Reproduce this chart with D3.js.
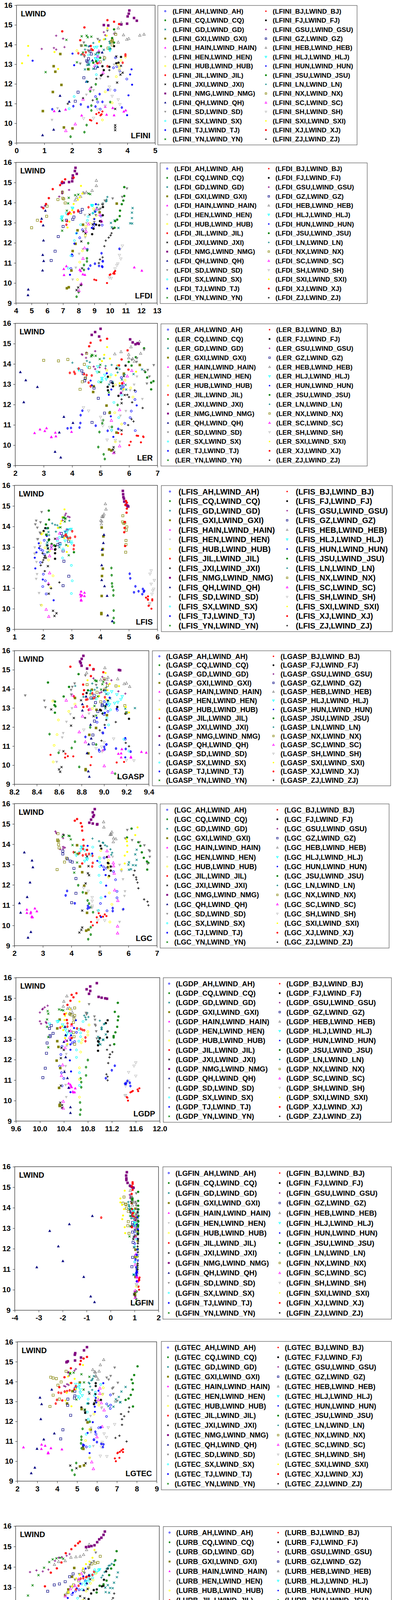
<!DOCTYPE html>
<html>
<head>
<meta charset="utf-8">
<script src="https://cdn.jsdelivr.net/npm/d3@7"></script>
<style>
  body { margin: 0; background: #fff; }
  text { font-family: "Liberation Sans", Arial, sans-serif; font-weight: bold; fill: #000; }
</style>
</head>
<body>
<svg id="chart" width="1006" height="4802"></svg>
<script>
// provinces in legend order (left column, then right column)
var provinces = ["AH","CQ","GD","GXI","HAIN","HEN","HUB","JIL","JXI","NMG","QH","SD","SX","TJ","YN",
                 "BJ","FJ","GSU","GZ","HEB","HLJ","HUN","JSU","LN","NX","SC","SH","SXI","XJ","ZJ"];
var markerTypes = ["ocirc","stem","x","fsq","ftri","fdtri","ocirc","stem","x","fsq","ftri","fdtri","ocirc","stem","x",
                   "fcirc","star","plus","osq","otri","odtri","fcirc","star","plus","osq","otri","odtri","fcirc","star","plus"];
var markerColors = ["#0000FF","#008000","#008080","#808000","#FF00FF","#C0C0C0","#FFFF00","#FF0000","#000000","#800080","#000080","#808080","#00FFFF","#0000FF","#008000",
                    "#FF0000","#000000","#800080","#000080","#808080","#00FFFF","#0000FF","#008000","#008080","#808000","#FF00FF","#C0C0C0","#FFFF00","#FF0000","#000000"];

// LWIND values (y), one row per province, same order as above
var lwind = [
  [13.33,12.88,12.82,12.65,12.25,11.68,11.36,11.08,10.72], // AH
  [11.98,11.63,11.23,11.08,10.90,10.65,9.91,9.55,9.32],    // CQ
  [13.73,13.50,13.23,13.11,12.99,12.97,12.96,12.77,12.74], // GD
  [13.95,13.52,12.90,12.62,11.95,11.59,10.62,9.79,9.74],   // GXI
  [10.84,10.78,10.70,10.66,10.62,10.60,10.44,10.41,10.40], // HAIN
  [13.38,12.98,12.70,12.67,12.27,11.68,11.45,10.76,10.17], // HEN
  [13.69,13.36,13.20,12.97,12.82,12.37,11.60,11.04,10.17], // HUB
  [13.77,13.61,13.56,13.52,13.50,13.45,13.43,13.08,12.90], // JIL
  [13.40,12.92,12.57,12.47,12.07,10.73,9.90,9.78,9.65],    // JXI
  [15.73,15.57,15.43,15.35,15.21,15.06,15.02,14.99,14.97], // NMG
  [13.60,13.20,12.87,12.12,11.40,11.10,10.63,9.68,9.40],   // QH
  [14.70,14.28,14.20,14.10,13.94,13.70,13.65,13.38,13.03], // SD
  [13.86,13.47,13.30,13.12,12.90,12.47,12.11,11.36,10.74], // SX
  [11.70,11.48,11.09,10.96,10.87,10.85,10.83,10.80,10.71], // TJ
  [14.45,14.42,14.40,14.37,14.24,13.96,13.60,13.10,12.60], // YN
  [10.60,10.54,10.47,10.46,10.43,10.40,10.17,10.14,10.00], // BJ
  [13.92,13.78,13.37,13.08,13.05,12.90,12.87,12.70,12.43], // FJ
  [14.63,14.55,14.48,14.45,14.30,13.87,13.83,13.78,13.75], // GSU
  [13.66,13.52,13.28,13.17,13.12,12.81,12.31,11.58,11.12], // GZ
  [15.10,14.84,14.60,14.52,14.49,14.47,14.30,14.26,14.12], // HEB
  [13.87,13.85,13.74,13.70,13.60,13.45,13.30,13.25,13.17], // HLJ
  [13.92,13.54,13.18,12.95,12.74,12.48,11.96,11.42,10.41], // HUN
  [14.77,14.33,14.10,13.92,13.60,13.33,13.15,13.08,12.75], // JSU
  [14.28,14.15,14.08,14.06,13.95,13.90,13.75,13.58,13.48], // LN
  [14.52,14.22,14.18,14.15,13.98,13.82,13.32,13.12,12.75], // NX
  [13.67,13.40,13.08,12.93,12.57,11.74,11.22,9.96,9.62],   // SC
  [11.85,11.69,11.38,11.20,10.96,10.88,10.71,10.26,10.24], // SH
  [14.83,14.45,14.26,14.14,13.93,13.62,13.44,13.05,12.76], // SXI
  [15.24,15.16,15.04,14.87,14.67,14.22,13.93,13.72,13.05], // XJ
  [12.70,12.48,12.37,12.26,12.11,11.83,11.28,11.17,10.99]  // ZJ
];

// x values per panel, rows in province order
var xLFINI = [
  [3.57,3.62,3.5,3.72,3.98,3.55,2.85,2.93,3.02],[2.86,2.66,2.9,3.38,2.7,2.7,2.53,2.45,1.95],
  [3.15,2.85,3.15,2.9,2.6,2.62,2.55,2.77,2.47],[2.34,1.58,1.34,1.4,1.62,1.31,0.95,1.71,2.02],
  [3.2,3.47,1.77,3.94,1.36,3.87,3.25,3.52,2.35],[3.15,3.52,3.72,3.7,3.02,2.78,2.52,1.48,1.28],
  [2.18,3.93,3.77,3.67,3.71,3.6,3.2,3.45,3.1],[2.7,2.5,2.23,2.38,3.93,2.45,3.93,3.83,3.28],
  [3.6,3.77,3.83,3.75,3.63,3.56,3.56,3.56,3.56],[4.07,4.05,4.01,4.24,4.34,3.99,3.78,3.15,3.31],
  [3.09,2.74,2.93,2.52,1.57,1.9,1.55,1.34,0.94],[3.28,2.93,3.0,2.43,2.33,2.58,2.62,2.45,2.3],
  [3.35,2.6,2.85,2.65,2.88,2.88,2.55,2.08,1.9],[3.3,3.0,3.1,2.32,2.05,2.85,2.58,3.8,1.29],
  [2.53,2.35,2.7,2.57,1.8,2.47,2.4,2.18,1.05],
  [3.1,2.97,2.88,3.07,3.05,3.03,2.65,2.7,2.9],[3.52,3.38,3.77,3.68,3.6,3.1,3.35,3.15,3.05],
  [3.15,3.52,3.2,1.43,1.68,1.73,1.35,0.91,1.43],[2.65,2.7,2.6,2.53,2.57,2.85,2.43,2.22,2.12],
  [3.78,3.67,3.55,4.6,3.86,4.45,4.05,3.98,3.67],[2.9,2.82,3.35,3.37,2.97,2.93,2.85,2.95,2.9],
  [2.65,2.02,0.58,2.08,4.15,4.1,4.17,4.04,3.99],[3.52,3.45,3.52,3.05,2.97,3.02,2.87,2.77,2.58],
  [3.2,3.35,2.77,3.37,2.52,2.6,2.47,2.9,2.33],[3.58,3.46,3.45,3.42,3.45,3.3,3.18,3.02,2.6],
  [2.97,2.93,2.98,2.83,3.12,2.65,2.4,2.12,1.78],[3.35,3.37,3.45,3.67,3.73,3.2,2.92,2.78,2.42],
  [3.28,3.25,3.15,2.98,0.42,1.37,0.42,0.2,1.5],[3.28,3.52,3.7,2.45,1.65,2.3,2.68,2.75,2.92],
  [3.35,3.1,3.3,2.88,2.57,2.7,2.4,2.75,1.85]
];
var xLFDI = [
  [9.42,9.5,8.95,8.24,8.07,8.55,7.6,9.54,7.51],[8.61,8.55,8.53,8.53,8.34,8.34,8.17,8.0,7.87],
  [11.44,11.4,11.4,10.29,10.06,11.29,11.41,10.12,10.54],[10.43,9.34,8.28,7.93,7.8,7.62,7.54,7.37,7.25],
  [7.22,11.55,7.05,8.07,12.03,8.13,8.27,8.4,7.07],[8.4,8.5,8.45,8.45,8.42,8.27,8.03,7.82,7.62],
  [8.96,9.13,8.98,8.72,8.47,8.43,8.24,8.07,7.93],[8.63,7.97,7.97,7.7,7.43,7.35,7.32,7.26,7.22],
  [8.7,8.9,8.3,8.44,8.17,8.22,8.13,7.97,7.87],[7.8,7.76,7.88,7.63,7.61,7.59,7.39,7.05,6.93],
  [5.88,5.64,5.74,5.76,5.71,5.77,5.7,4.79,4.77],[11.08,10.78,10.17,9.67,9.54,9.4,9.3,9.09,9.0],
  [8.83,8.9,8.6,8.56,8.13,7.85,7.73,7.51,7.34],[10.6,9.46,9.54,9.04,8.75,9.3,9.49,9.52,8.63],
  [8.63,8.74,7.98,7.78,7.37,7.33,7.25,6.97,6.95],
  [10.33,10.27,10.21,10.29,10.03,9.98,9.0,9.12,9.81],[9.53,9.55,9.54,9.36,9.44,9.11,9.31,8.95,8.86],
  [7.39,6.95,6.96,6.95,6.76,5.88,5.85,5.63,5.72],[8.23,8.13,7.7,7.63,7.22,7.01,6.7,6.5,6.25],
  [9.13,9.13,8.86,8.49,8.28,8.34,8.13,7.88,7.78],[8.84,8.9,7.59,7.62,9.13,7.22,6.95,6.93,6.9],
  [9.1,9.05,9.0,9.0,8.84,7.88,7.73,7.57,7.45],[10.91,10.91,10.85,10.75,10.64,10.62,10.46,10.33,10.29],
  [9.83,9.78,9.79,9.74,9.54,9.25,9.17,9.02,8.92],[6.97,6.99,7.05,6.68,7.14,5.99,5.96,5.37,5.0],
  [9.13,9.36,9.46,8.63,8.48,8.38,8.28,8.17,8.02],[10.79,10.66,10.6,10.69,10.5,10.44,10.32,9.96,10.08],
  [8.15,8.24,8.07,7.95,7.68,7.59,7.51,7.41,7.29],[7.68,7.14,6.95,6.82,6.35,6.1,5.92,5.75,5.6],
  [10.19,10.1,10.04,9.92,9.73,9.64,9.53,9.36,9.29]
];
var xLER = [
  [5.73,5.8,5.75,6.23,6.21,6.08,6.04,5.85,6.22],[5.6,5.33,5.09,5.06,5.4,4.96,4.92,5.11,5.15],
  [6.46,6.16,5.75,5.43,5.3,5.88,5.77,5.71,5.9],[6.38,5.82,4.76,4.74,5.21,5.32,5.56,5.3,5.38],
  [3.1,2.87,3.04,3.98,3.41,2.68,3.43,3.27,3.27],[6.28,6.18,6.04,5.78,6.47,5.89,5.7,5.68,5.68],
  [5.22,5.33,5.86,5.53,6.06,6.14,5.5,5.74,5.52],[4.23,4.07,3.92,4.1,4.42,4.51,4.69,4.58,4.65],
  [5.82,5.68,5.72,5.85,5.74,5.74,5.46,5.44,5.48],[5.0,4.81,4.69,4.95,6.04,6.13,6.3,6.34,6.23],
  [2.18,2.37,2.78,2.3,3.71,4.03,3.55,3.4,3.6],[6.53,6.28,6.1,6.27,6.87,6.66,6.54,6.72,6.63],
  [5.62,5.37,5.05,4.93,5.74,5.74,5.47,5.64,5.39],[4.36,4.3,4.29,4.83,4.26,3.96,3.84,5.62,5.25],
  [4.69,4.72,4.83,4.67,4.97,4.99,4.95,5.01,5.29],
  [5.62,5.74,6.27,6.32,6.5,6.51,6.06,6.42,6.01],[5.88,5.56,5.26,5.41,5.43,5.44,5.25,5.26,5.63],
  [4.81,4.5,4.34,4.36,4.49,4.76,4.97,5.17,4.81],[4.34,4.39,4.46,4.44,5.37,4.77,4.92,5.14,4.7],
  [6.37,6.07,5.72,6.41,5.5,5.99,5.99,6.13,6.19],[4.9,4.55,4.22,4.24,4.88,5.15,5.05,5.2,5.05],
  [5.59,5.22,4.65,4.69,5.38,5.29,6.27,5.36,5.45],[6.53,6.24,5.99,6.09,6.57,6.64,6.86,6.78,6.78],
  [5.12,4.52,4.62,4.01,5.39,5.18,5.67,5.6,5.85],[4.51,3.85,3.0,3.52,4.43,4.61,4.47,4.36,4.28],
  [6.1,5.94,5.8,5.75,5.72,5.67,5.38,5.67,5.46],[4.4,4.58,5.0,5.05,5.08,5.32,5.39,5.23,5.52],
  [5.23,5.13,5.33,5.05,5.6,6.25,5.53,5.67,5.81],[5.23,5.0,4.65,4.6,5.95,5.74,5.65,5.98,5.76],
  [6.2,5.94,6.0,5.74,6.11,6.48,6.09,6.16,5.97]
];
var xLFIS = [
  [2.04,1.92,1.99,2.04,1.91,2.01,2.08,1.99,2.11],[4.39,4.4,4.41,4.42,4.46,4.46,4.47,4.47,4.48],
  [2.19,2.68,2.15,2.13,2.57,2.29,2.17,2.19,2.14],[4.05,4.11,4.09,4.08,4.09,4.06,4.05,4.04,4.04],
  [3.33,3.45,3.3,3.36,3.45,3.32,3.33,3.34,3.33],[1.79,1.71,1.73,1.7,1.77,1.79,1.76,1.86,1.92],
  [1.99,2.92,1.91,2.07,2.23,2.19,2.35,2.26,1.95],[3.02,2.8,2.77,2.83,3.12,2.95,2.87,3.08,3.07],
  [2.42,2.17,2.07,2.1,2.17,2.2,2.35,2.47,2.4],[4.79,4.8,4.81,4.83,4.84,4.9,4.94,4.96,4.98],
  [4.13,4.11,4.06,4.05,4.05,4.15,4.24,4.26,4.42],[1.95,1.76,1.91,1.73,1.8,1.89,1.91,1.82,1.89],
  [2.96,2.57,2.5,2.61,2.7,2.68,2.99,3.02,2.99],[5.03,5.05,5.23,5.49,5.54,5.34,5.52,5.18,5.47],
  [2.74,2.7,2.79,2.77,2.76,2.61,2.13,2.81,2.9],
  [5.67,5.6,5.66,5.82,5.67,5.82,5.71,5.69,5.79],[2.08,2.02,2.21,2.15,2.43,2.43,2.42,2.42,2.42],
  [2.8,2.77,2.87,2.93,2.68,2.83,2.87,2.8,2.77],[2.64,2.68,2.89,2.59,2.52,2.7,2.73,2.9,2.7],
  [4.18,4.2,4.13,4.11,4.06,4.09,4.02,4.05,4.04],[2.98,2.87,2.77,2.83,2.8,2.9,2.77,2.98,3.0],
  [2.17,2.13,1.85,1.86,1.77,1.71,1.73,1.99,2.37],[2.2,2.21,2.1,2.17,2.11,2.2,2.3,2.39,3.08],
  [2.92,2.32,2.42,2.5,2.55,2.13,2.45,2.21,2.83],[4.79,4.78,4.86,4.82,4.93,4.91,4.9,4.9,4.89],
  [2.58,2.5,2.3,2.29,2.23,2.23,2.19,2.11,2.2],[5.78,5.74,5.89,5.78,5.87,5.84,5.81,5.74,5.72],
  [2.75,2.68,2.64,2.61,2.52,1.95,2.74,2.87,2.83],[4.9,4.93,4.88,4.93,4.92,4.86,4.85,4.84,4.87],
  [1.98,2.04,2.01,1.98,1.92,2.06,2.57,2.19,2.28]
];
var xLGASP = [
  [9.002,9.119,9.035,9.0,8.938,8.99,9.19,9.02,8.96],[8.877,8.514,8.741,8.93,8.712,8.595,8.779,9.099,9.128],
  [9.02,9.055,9.022,9.002,9.276,9.012,9.19,9.2,8.99],[8.892,8.741,8.933,9.026,8.929,8.869,8.86,8.836,8.836],
  [9.159,8.99,9.334,9.377,9.153,9.128,9.24,9.153,9.24],[8.55,8.714,8.866,8.7,8.665,8.636,8.627,8.603,8.578],
  [8.88,8.543,8.741,8.895,8.686,8.593,8.581,8.555,8.547],[8.895,8.731,9.008,8.919,8.903,8.853,8.84,8.849,8.863],
  [8.795,8.529,8.907,8.731,8.706,8.638,8.621,8.599,8.609],[8.816,8.801,8.786,8.793,8.8,8.849,8.906,9.133,9.144],
  [8.84,8.807,8.807,8.88,8.886,8.863,8.849,8.86,8.869],[8.834,8.738,8.93,8.717,8.706,8.708,8.297,8.467,8.477],
  [9.009,8.93,9.037,9.04,9.058,9.026,9.041,9.177,9.223],[8.99,8.834,9.022,9.002,9.107,9.194,9.006,8.955,9.238],
  [8.919,8.929,8.935,8.994,8.985,8.974,8.944,8.915,8.93],
  [8.656,8.523,8.677,8.726,8.888,8.653,9.179,9.113,8.88],[9.0,8.845,9.035,9.012,9.119,8.965,8.973,9.192,9.223],
  [8.985,8.906,9.002,9.066,9.022,9.128,8.977,8.962,9.19],[8.912,8.884,8.924,8.985,8.983,8.945,8.915,8.901,8.904],
  [9.008,8.845,9.035,9.122,9.026,8.971,9.2,9.18,9.229],[8.88,9.069,9.037,9.115,9.162,9.151,9.124,9.095,9.049],
  [9.016,9.05,9.023,9.113,9.008,8.935,9.009,9.19,9.19],[8.773,8.5,8.688,8.857,8.64,8.563,8.558,8.567,8.562],
  [8.895,8.743,9.02,8.938,8.917,8.88,8.877,8.816,8.893],[9.002,8.849,9.031,9.107,9.008,8.938,8.971,9.186,9.2],
  [8.717,8.663,8.747,8.874,8.808,8.779,8.834,9.002,9.074],[8.82,8.983,9.086,9.002,8.979,8.929,8.983,9.2,9.267],
  [9.014,8.853,9.051,9.134,9.031,8.956,9.02,9.194,9.223],[8.874,8.7,8.906,8.994,8.883,8.814,8.822,8.813,8.816],
  [8.985,8.831,9.02,9.105,9.006,8.962,8.977,9.194,9.223]
];
var xLGC = [
  [5.15,5.13,5.22,5.48,5.55,5.6,5.6,5.02,5.25],[4.24,4.4,4.57,4.62,4.69,4.76,4.68,4.68,4.59],
  [6.29,6.24,6.29,6.02,6.0,6.16,6.26,6.09,6.02],[4.2,4.22,4.3,4.38,4.45,4.52,4.55,4.6,4.52],
  [2.72,2.44,2.79,2.58,2.44,2.57,2.61,2.64,2.62],[5.45,5.69,5.74,5.76,5.81,5.88,5.86,5.8,5.69],
  [5.03,4.98,5.3,5.3,5.3,5.3,5.33,5.42,5.35],[4.41,4.08,4.28,4.62,4.51,4.4,4.74,4.75,4.73],
  [4.55,4.6,4.58,4.62,4.5,4.38,4.38,4.35,4.28],[4.82,4.75,4.79,4.76,4.69,4.63,4.75,4.91,4.9],
  [2.35,2.62,2.65,2.55,2.45,2.18,2.22,2.58,2.48],[5.96,5.89,6.13,6.39,6.56,6.72,6.75,6.75,6.67],
  [4.75,4.68,5.0,4.99,5.0,4.97,5.03,5.04,4.95],[3.85,3.8,4.12,4.58,4.63,5.45,4.57,5.82,5.45],
  [3.73,3.9,3.94,3.69,3.98,4.04,4.12,4.2,4.1],
  [4.96,5.17,5.01,5.23,5.11,4.89,4.69,4.9,4.75],[5.02,5.05,5.25,5.28,5.3,5.38,5.28,5.38,5.32],
  [3.44,3.47,3.71,3.73,3.71,3.71,3.77,3.71,3.61],[3.7,3.7,3.86,3.96,4.03,4.09,4.16,4.16,4.01],
  [5.13,5.14,5.42,5.38,5.4,5.36,5.48,5.56,5.47],[4.35,4.38,4.34,4.47,4.29,4.17,4.53,4.56,4.47],
  [4.57,4.73,4.91,5.05,5.14,5.2,5.22,5.19,5.04],[6.11,5.95,6.35,6.42,6.47,6.54,6.65,6.7,6.66],
  [4.74,4.97,5.1,5.12,5.18,5.25,5.37,5.43,5.4],[3.53,3.52,3.52,3.55,3.55,3.57,3.83,3.76,3.5],
  [5.25,5.31,5.47,5.48,5.5,5.52,5.63,5.62,5.62],[4.43,4.59,4.73,4.73,4.73,4.73,4.93,4.93,5.17],
  [6.32,6.24,5.93,5.95,5.96,5.96,5.87,5.87,5.76],[4.2,4.12,4.33,4.37,4.38,4.42,4.43,4.55,4.38],
  [6.22,6.18,6.27,6.28,6.32,6.35,6.55,6.67,6.7]
];
var xLGDP = [
  [10.61,10.58,10.54,10.37,10.35,10.33,10.36,10.4,10.37],[10.8,10.77,10.77,10.68,10.69,10.69,10.67,10.68,10.67],
  [11.07,11.03,11.1,10.97,10.99,11.05,11.06,10.99,11.01],[10.33,10.29,10.29,10.31,10.28,10.34,10.32,10.33,10.33],
  [10.48,10.51,10.52,10.53,10.49,10.59,10.55,10.58,10.56],[10.53,10.5,10.45,10.45,10.44,10.43,10.41,10.43,10.44],
  [10.82,10.8,10.8,10.71,10.69,10.68,10.66,10.66,10.66],[10.46,10.46,10.34,10.62,10.68,10.71,10.74,10.76,10.76],
  [10.49,10.45,10.36,10.4,10.35,10.35,10.34,10.37,10.37],[10.95,10.84,10.78,10.84,10.82,10.98,11.03,11.09,11.12],
  [10.42,10.43,10.4,10.43,10.41,10.46,10.48,10.51,10.51],[10.82,10.77,10.78,10.91,10.92,10.92,10.93,10.94,10.95],
  [10.72,10.65,10.68,10.68,10.65,10.61,10.61,10.66,10.66],[11.25,11.2,11.1,11.46,11.5,11.44,11.42,11.43,11.51],
  [10.32,10.36,10.39,10.13,10.14,10.12,10.12,10.14,10.14],
  [11.66,11.63,11.55,11.64,11.53,11.51,11.45,11.46,11.47],[11.13,11.1,11.13,11.12,11.0,10.97,10.98,10.97,10.97],
  [10.13,10.08,10.05,10.04,10.0,10.0,10.1,10.11,10.02],[10.19,10.16,10.22,10.17,10.17,10.12,10.11,10.09,10.05],
  [10.45,10.4,10.39,10.49,10.46,10.52,10.54,10.5,10.56],[10.31,10.29,10.16,10.38,10.4,10.43,10.46,10.52,10.44],
  [10.6,10.57,10.52,10.51,10.51,10.51,10.5,10.52,10.51],[11.3,11.25,11.31,11.3,11.29,11.26,11.23,11.23,11.24],
  [10.79,10.74,10.81,10.76,10.77,11.0,11.08,11.03,11.03],[10.58,10.5,10.52,10.58,10.57,10.56,10.56,10.57,10.58],
  [10.53,10.51,10.5,10.43,10.42,10.38,10.36,10.39,10.39],[11.6,11.57,11.48,11.6,11.48,11.44,11.43,11.43,11.42],
  [10.66,10.5,10.44,10.42,10.41,10.37,10.39,10.42,10.46],[10.61,10.53,10.56,10.51,10.46,10.41,10.45,10.53,10.53],
  [11.17,11.12,11.21,11.17,11.16,11.14,11.11,11.13,11.13]
];
var xLGFIN = [
  [1.02,1.04,1.01,1.01,1.01,1.04,1.01,1.1,1.04],[1.14,1.13,1.13,1.12,1.1,1.09,1.09,1.07,1.07],
  [1.13,1.14,1.12,1.14,1.13,1.1,1.09,1.13,1.14],[1.04,1.07,1.04,1.04,1.04,1.04,1.04,1.02,1.02],
  [1.12,1.09,1.1,1.08,1.09,1.12,1.1,1.13,1.12],[1.09,1.12,1.13,1.12,1.14,1.15,1.14,1.13,1.12],
  [1.01,1.04,1.07,1.09,1.1,1.12,1.08,1.09,1.07],[0.95,0.9,0.97,-0.39,1.02,1.04,0.99,0.86,1.02],
  [1.04,1.01,0.97,0.95,0.98,0.96,1.01,0.98,1.03],[0.68,0.65,0.66,0.66,0.71,0.82,0.88,0.92,0.96],
  [-0.76,-1.72,-2.54,-2.18,-1.99,-3.08,-1.12,-0.83,-0.67],[1.07,1.04,1.07,1.07,1.09,1.08,1.07,1.09,1.09],
  [0.97,0.98,0.99,1.01,1.03,1.07,1.01,1.01,0.97],[1.1,1.04,1.07,1.09,1.1,1.08,1.09,1.07,1.08],
  [0.9,0.91,0.92,0.89,0.88,0.85,0.82,0.83,0.79],
  [1.21,1.19,1.2,1.18,1.16,1.15,1.16,1.16,1.19],[1.14,1.13,1.13,1.12,1.13,1.13,1.14,1.13,1.13],
  [0.8,0.83,0.82,0.84,0.85,0.8,0.83,0.84,0.83],[0.92,0.95,0.92,0.92,0.95,0.92,0.94,0.92,0.89],
  [0.8,0.82,0.85,0.9,0.88,0.9,0.92,0.95,0.92],[0.92,0.95,0.97,0.95,1.02,1.04,1.02,1.04,1.04],
  [1.14,1.12,1.09,1.14,1.12,1.13,1.12,1.14,1.09],[1.15,1.15,1.15,1.16,1.16,1.16,1.15,1.14,1.15],
  [0.74,0.76,0.77,0.78,0.77,0.8,0.83,0.84,0.86],[0.56,0.52,0.64,0.64,0.66,0.74,0.74,0.72,0.77],
  [1.07,1.04,1.04,1.03,1.04,1.06,1.03,1.03,1.03],[1.13,1.14,1.13,1.12,1.1,1.12,1.09,1.07,1.09],
  [0.59,0.41,0.41,0.48,0.56,0.52,0.49,0.59,0.61],[0.92,0.92,0.89,0.92,0.88,0.88,0.9,0.92,0.89],
  [1.14,1.15,1.15,1.14,1.13,1.14,1.13,1.13,1.13]
];
var xLGTEC = [
  [6.68,6.49,6.69,6.67,6.48,6.09,5.95,5.85,5.47],[5.64,5.28,5.22,5.22,5.2,5.23,4.96,4.75,4.88],
  [7.44,7.23,7.1,6.95,6.94,7.16,7.18,6.57,6.83],[5.14,4.77,4.5,5.23,5.53,5.69,5.32,5.35,5.15],
  [3.22,3.4,2.31,3.69,3.21,4.24,3.55,3.56,3.54],[6.3,6.9,6.25,6.23,5.68,5.7,5.7,5.82,5.64],
  [6.32,6.28,6.05,6.07,6.1,5.85,5.63,5.43,5.63],[4.94,4.87,4.63,4.5,4.38,4.07,4.2,3.99,3.93],
  [5.62,5.87,5.39,5.41,5.46,5.3,5.43,4.66,4.97],[5.5,5.35,4.91,4.89,5.2,4.9,4.54,4.49,4.47],
  [3.73,3.14,3.22,3.18,3.86,3.33,2.99,2.88,2.7],[6.89,6.69,6.49,6.59,7.05,6.82,6.77,6.82,7.02],
  [6.19,5.92,5.88,5.56,5.52,5.52,5.56,5.46,5.64],[6.19,5.92,5.85,6.0,6.22,6.33,5.3,5.35,6.3],
  [4.83,4.64,4.66,5.22,5.62,5.35,5.33,4.97,5.39],
  [7.31,7.23,7.15,7.31,7.05,7.03,7.13,6.9,6.95],[5.94,5.94,5.92,6.2,5.92,5.56,5.85,5.22,5.41],
  [4.94,4.87,4.58,4.55,4.6,4.5,4.58,4.35,4.42],[4.91,4.89,4.89,4.87,4.54,4.53,4.68,4.29,4.18],
  [6.34,6.17,5.79,6.11,5.89,5.92,5.94,5.96,6.05],[4.94,5.13,5.1,4.97,5.16,5.16,5.26,5.05,5.12],
  [6.32,6.08,5.94,5.97,5.89,5.9,5.79,5.53,5.63],[8.04,7.87,7.74,7.8,7.8,7.7,7.59,7.44,7.81],
  [5.84,5.79,5.76,5.71,5.59,5.63,5.66,5.76,5.59],[4.45,3.68,3.8,3.96,4.2,4.04,3.8,4.11,3.64],
  [6.15,6.15,6.07,6.22,6.36,6.26,6.0,5.74,5.82],[6.89,6.57,6.36,6.48,6.26,6.24,6.22,6.17,6.5],
  [5.3,4.66,4.55,4.88,4.67,4.94,4.48,4.42,4.72],[5.5,5.33,5.19,5.15,4.69,4.37,4.71,4.11,4.26],
  [7.62,7.59,7.21,7.37,7.26,7.26,7.13,6.93,7.49]
];
var xLURB = [
  [4.085,4.042,4.017,3.992,3.961,3.929,3.897,3.87,3.866],[4.251,4.239,4.219,4.197,4.173,4.147,4.119,4.09,4.065],
  [4.312,4.305,4.285,4.242,4.224,4.258,4.276,4.227,4.251],[4.008,3.993,3.967,3.945,3.925,3.896,3.87,3.84,3.808],
  [4.006,4.099,3.978,4.061,4.11,4.037,4.079,3.956,4.084],[4.033,3.996,3.958,3.95,3.922,3.886,3.849,3.807,3.774],
  [4.159,4.139,4.121,4.107,4.091,4.069,4.044,4.019,3.996],[4.146,4.135,4.112,4.095,4.09,4.071,4.053,4.038,4.02],
  [4.119,4.101,4.049,4.079,4.019,3.988,3.956,3.922,3.892],[4.221,4.212,4.197,4.182,4.168,4.149,4.128,4.11,4.09],
  [4.11,4.096,4.074,4.047,4.015,3.981,3.945,3.931,3.897],[4.158,4.144,4.126,4.117,4.108,4.079,4.042,4.013,3.981],
  [4.151,4.137,4.112,4.085,4.061,4.031,4.002,3.969,3.942],[4.439,4.437,4.432,4.416,4.411,4.42,4.427,4.425,4.409],
  [3.911,3.884,3.931,3.858,3.834,3.798,3.759,3.718,3.686],
  [4.469,4.467,4.466,4.464,4.463,4.462,4.457,4.458,4.461],[4.241,4.23,4.215,4.211,4.2,4.165,4.144,4.126,4.108],
  [3.976,3.955,3.922,3.9,3.874,3.828,3.745,3.789,3.7],[4.0,3.976,3.945,3.905,3.869,3.823,3.759,3.695,3.634],
  [4.112,4.094,4.073,4.049,4.02,3.985,3.945,3.899,3.87],[4.185,4.178,4.165,4.15,4.124,4.106,4.094,4.085,4.062],
  [4.087,4.071,4.051,4.026,3.999,3.963,3.925,3.89,3.861],[4.303,4.294,4.285,4.265,4.251,4.233,4.212,4.185,4.164],
  [4.289,4.269,4.257,4.248,4.242,4.233,4.219,4.206,4.197],[4.189,4.173,4.153,4.13,4.11,4.071,4.04,4.003,3.965],
  [4.058,4.04,4.013,3.981,3.946,3.91,3.877,3.838,3.806],[4.493,4.491,4.49,4.488,4.488,4.487,4.482,4.493,4.49],
  [4.149,4.135,4.114,4.09,4.069,4.046,4.022,3.993,3.967],[4.047,4.035,4.015,3.988,3.949,3.919,3.887,3.845,3.804],
  [4.286,4.278,4.27,4.249,4.233,4.215,4.194,4.173,4.158]
];
var xLWP = [
  [6.247,5.807,6.07,6.349,6.33,6.37,6.4,6.42,6.44],[5.848,5.848,5.85,5.86,5.87,5.88,5.95,5.97,6.0],
  [5.945,6.328,6.211,6.548,6.694,6.424,6.413,6.64,6.491],[5.857,5.867,6.116,6.211,6.254,6.313,6.36,6.42,6.45],
  [6.35,6.38,6.42,6.36,6.4,6.45,6.43,6.39,6.47],[5.77,6.055,6.3,6.32,6.31,6.313,6.33,6.36,6.4],
  [5.874,5.877,6.16,6.353,6.36,6.356,6.416,6.42,6.45],[5.767,5.774,5.848,6.08,6.288,6.359,6.413,6.203,6.31],
  [5.86,5.87,6.136,6.41,6.339,6.38,6.42,6.44,6.46],[5.502,5.583,5.76,6.125,6.228,6.259,6.264,6.285,6.143],
  [5.59,5.604,5.952,6.126,6.15,6.2,6.28,6.22,6.25],[5.813,6.2,5.966,6.32,6.367,6.422,6.4,6.498,6.64],
  [5.715,5.732,5.923,6.245,6.3,6.33,6.339,6.35,6.38],[5.732,5.749,5.77,5.8,5.82,5.85,5.79,5.84,5.87],
  [5.661,5.831,5.668,6.037,5.984,6.112,6.325,6.33,6.37],
  [6.6,6.62,6.65,6.63,6.66,6.68,6.55,6.58,6.6],[5.829,5.836,6.026,6.3,6.363,6.33,6.28,6.29,6.275],
  [5.58,5.59,5.82,5.976,6.087,6.037,6.271,6.28,6.29],[5.715,5.715,5.945,6.196,6.17,6.391,6.356,6.377,6.38],
  [5.75,5.76,5.86,6.25,6.054,6.257,6.271,6.3,6.28],[5.789,5.8,6.136,6.17,6.282,6.38,6.36,6.42,6.4],
  [5.959,5.965,6.172,6.33,6.306,6.342,6.275,6.455,6.45],[5.788,5.803,6.044,6.433,6.399,6.363,6.36,6.37,6.39],
  [5.777,5.786,6.023,6.214,6.328,5.952,6.22,6.264,6.26],[5.42,5.434,5.838,6.136,6.268,6.292,6.335,6.35,6.36],
  [5.824,5.824,5.987,6.245,6.271,6.366,6.38,6.43,6.46],[5.86,5.871,5.88,5.9,5.92,5.93,5.95,5.97,5.99],
  [5.658,6.06,6.062,6.349,6.377,6.377,6.356,6.406,6.41],[5.346,5.346,5.864,6.041,6.077,6.111,6.08,6.309,6.335],
  [5.86,5.874,6.098,6.204,6.25,6.233,6.27,6.3,6.32]
];

var panelNames = ["LFINI","LFDI","LER","LFIS","LGASP","LGC","LGDP","LGFIN","LGTEC","LURB","LWP"];
var panelX = [xLFINI, xLFDI, xLER, xLFIS, xLGASP, xLGC, xLGDP, xLGFIN, xLGTEC, xLURB, xLWP];
var xDomains = [[0,5],[4,13],[2,7],[1,6],[8.2,9.4],[2,7],[9.6,12.0],[-4,2],[2,9],[3.6,4.6],[5.2,6.8]];
var xTicks = [
  [0,1,2,3,4,5],[4,5,6,7,8,9,10,11,12,13],[2,3,4,5,6,7],[1,2,3,4,5,6],
  [8.2,8.4,8.6,8.8,9.0,9.2,9.4],[2,3,4,5,6,7],[9.6,10.0,10.4,10.8,11.2,11.6,12.0],
  [-4,-3,-2,-1,0,1,2],[2,3,4,5,6,7,8,9],[3.6,3.8,4.0,4.2,4.4,4.6],[5.2,5.4,5.6,5.8,6.0,6.2,6.4,6.6,6.8]
];
var oneDecimal = [false,false,false,false,true,false,true,false,false,true,true];
var yTicks = [9,10,11,12,13,14,15,16];

// page layout of each panel: plot box, legend box, legend font and columns
var layout = [
  {l:42.3, r:397,   t:13.3,   b:366,    lg:[404,914,14,371],      fs:17,   c:[423,441.7,680.7,698]},
  {l:40.7, r:402,   t:415.7,  b:776,    lg:[410,940,417,777],     fs:17,   c:[428,446,688,705]},
  {l:39,   r:403,   t:827.7,  b:1191.7, lg:[412,940,829,1193],    fs:17,   c:[430,448,690,707]},
  {l:37,   r:403,   t:1242.5, b:1611,   lg:[413,1004,1243,1617],  fs:20,   c:[435,457,735,757]},
  {l:36.7, r:381,   t:1665.7, b:2007.7, lg:[390,1000,1666,2011.7],fs:18,   c:[408,425,700,718]},
  {l:36.7, r:401.7, t:2057.3, b:2421,   lg:[410,996,2058,2427],   fs:18,   c:[428,446,710,728]},
  {l:40.7, r:409,   t:2502.7, b:2870,   lg:[418,1002,2503,2873],  fs:18.5, c:[433,450,716,733]},
  {l:37.7, r:405.7, t:2986.7, b:3354.3, lg:[417,1002,2987,3377],  fs:18.5, c:[432,449,716,733]},
  {l:44.3, r:401,   t:3435,   b:3791.7, lg:[413,1002,3434,3814],  fs:18,   c:[430,447,712,729]},
  {l:40,   r:407.7, t:3906.7, b:4273,   lg:[418,1002,3908,4285],  fs:18,   c:[434,451,712,729]},
  {l:38.3, r:414,   t:4390,   b:4765.7, lg:[420,1002,4390,4768],  fs:19,   c:[436,453,718,735]}
];

var markerSize = {fsq:3, osq:2.8, ftri:3.0, otri:3.0, fdtri:3.0, odtri:3.0, fcirc:2.4, ocirc:2.5, stem:2.2, x:2.6, plus:3.0, star:3.2};

function markerPath(type, r) {
  var p = d3.path();
  if (type == "fsq" || type == "osq") {
    p.rect(-r, -r, 2 * r, 2 * r);
  } else if (type == "ftri" || type == "otri") {
    p.moveTo(0, -1.15 * r); p.lineTo(1.1 * r, 0.85 * r); p.lineTo(-1.1 * r, 0.85 * r); p.closePath();
  } else if (type == "fdtri" || type == "odtri") {
    p.moveTo(0, 1.15 * r); p.lineTo(1.1 * r, -0.85 * r); p.lineTo(-1.1 * r, -0.85 * r); p.closePath();
  } else if (type == "fcirc" || type == "ocirc") {
    p.moveTo(r, 0); p.arc(0, 0, r, 0, 2 * Math.PI);
  } else if (type == "stem") {
    p.moveTo(r, 0); p.arc(0, 0, r, 0, 2 * Math.PI);
    p.moveTo(0, -1.6 * r); p.lineTo(0, 1.6 * r);
  } else if (type == "x") {
    p.moveTo(-r, -r); p.lineTo(r, r); p.moveTo(-r, r); p.lineTo(r, -r);
  } else if (type == "plus") {
    p.moveTo(-r, 0); p.lineTo(r, 0); p.moveTo(0, -r); p.lineTo(0, r);
  } else if (type == "star") {
    var d = r * 0.72;
    p.moveTo(-r, 0); p.lineTo(r, 0); p.moveTo(0, -r); p.lineTo(0, r);
    p.moveTo(-d, -d); p.lineTo(d, d); p.moveTo(-d, d); p.lineTo(d, -d);
  }
  return p.toString();
}

function styleMarker(sel, type, color) {
  var filled = (type == "fsq" || type == "ftri" || type == "fdtri" || type == "fcirc");
  sel.attr("fill", filled ? color : "none")
     .attr("stroke", color)
     .attr("stroke-width", filled ? 0.4 : (type == "x" || type == "plus" || type == "star") ? 1.4 : 1.2);
}

var svg = d3.select("#chart");

// draw order: alphabetical, i.e. row by row across the two legend columns
var drawOrder = [];
for (var k = 0; k < 15; k++) { drawOrder.push(k); drawOrder.push(k + 15); }

panelNames.forEach(function(name, pi) {
  var L = layout[pi];
  var g = svg.append("g");

  var x = d3.scaleLinear().domain(xDomains[pi]).range([L.l, L.r]);
  var y = d3.scaleLinear().domain([9, 16]).range([L.b, L.t]);

  var fmt = oneDecimal[pi] ? d3.format(".1f") : function(d) { return String(d); };

  var xAxis = g.append("g")
      .attr("transform", "translate(0," + L.b + ")")
      .call(d3.axisBottom(x).tickValues(xTicks[pi]).tickSize(5).tickPadding(7.5).tickFormat(fmt));
  var yAxis = g.append("g")
      .attr("transform", "translate(" + L.l + ",0)")
      .call(d3.axisLeft(y).tickValues(yTicks).tickSize(5).tickPadding(5.5).tickFormat(function(d) { return String(d); }));

  [xAxis, yAxis].forEach(function(a) {
    a.select(".domain").remove();
    a.selectAll(".tick line").attr("stroke", "#444").attr("stroke-width", 1.2);
    a.selectAll(".tick text")
      .style("font-family", '"Liberation Sans", Arial, sans-serif')
      .style("font-weight", "bold")
      .style("font-size", "19px")
      .attr("fill", "#000");
  });

  // plot frame
  g.append("rect")
    .attr("x", L.l).attr("y", L.t)
    .attr("width", L.r - L.l).attr("height", L.b - L.t)
    .attr("fill", "none").attr("stroke", "#333").attr("stroke-width", 1.3);

  // points
  var pts = g.append("g");
  drawOrder.forEach(function(si) {
    var type = markerTypes[si], color = markerColors[si];
    var rows = panelX[pi][si].map(function(xv, j) { return {x: xv, y: lwind[si][j]}; });
    pts.selectAll(null)
      .data(rows)
      .enter()
      .append("path")
        .attr("transform", function(d) { return "translate(" + x(d.x) + "," + y(d.y) + ")"; })
        .attr("d", markerPath(type, markerSize[type]))
        .call(styleMarker, type, color);
  });

  // in-plot labels
  g.append("text")
    .attr("x", L.l + 11).attr("y", L.t + 28.5)
    .style("font-size", "20px")
    .text("LWIND");
  g.append("text")
    .attr("x", L.r - 12).attr("y", L.b - 12.5)
    .attr("text-anchor", "end")
    .style("font-size", "20px")
    .text(name);

  // legend box
  var lg = L.lg;
  g.append("rect")
    .attr("x", lg[0]).attr("y", lg[2])
    .attr("width", lg[1] - lg[0]).attr("height", lg[3] - lg[2])
    .attr("fill", "none").attr("stroke", "#555").attr("stroke-width", 1.2);

  var h = lg[3] - lg[2];
  var step = h / 15.25;
  var y0 = lg[2] + (h - 14 * step) / 2;

  var leg = g.append("g");
  provinces.forEach(function(p, si) {
    var col = si < 15 ? 0 : 1;
    var row = si % 15;
    var cy = y0 + row * step;
    var mx = L.c[col * 2], tx = L.c[col * 2 + 1];
    var type = markerTypes[si];
    leg.append("path")
      .attr("transform", "translate(" + mx + "," + cy + ")")
      .attr("d", markerPath(type, markerSize[type] * 0.72))
      .call(styleMarker, type, markerColors[si]);
    leg.append("text")
      .attr("x", tx).attr("y", cy + L.fs * 0.36)
      .style("font-size", L.fs + "px")
      .text("(" + name + "_" + p + ",LWIND_" + p + ")");
  });
});
</script>
</body>
</html>
